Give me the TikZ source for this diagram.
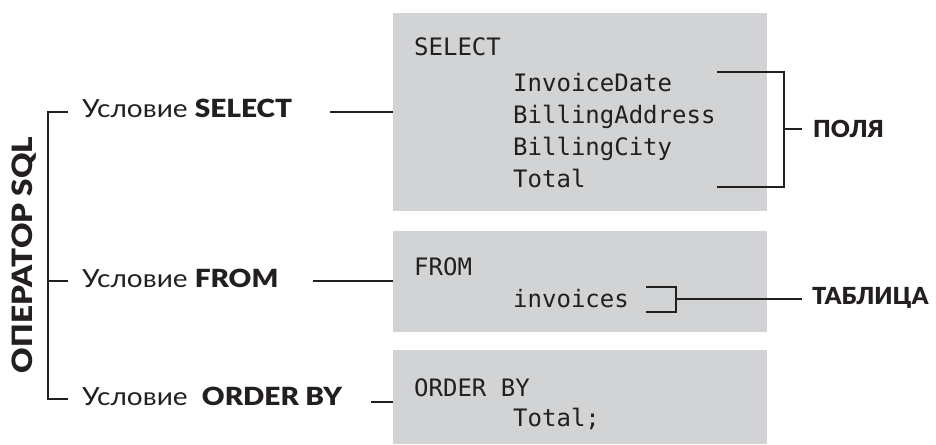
\documentclass[tikz,border=0pt]{standalone}
\usepackage{fontspec}
\newfontfamily\lab{Lato}[FakeStretch=1.12, BoldFont={* Black}]
\newfontfamily\headf{Lato}[BoldFont={* Black}]
\newfontfamily\code{DejaVu Sans Mono}
\definecolor{ink}{HTML}{231F20}
\definecolor{boxgray}{HTML}{D1D3D4}
\tikzset{
  codebox/.style={fill=boxgray, draw=none},
  codetext/.style={anchor=base west, inner sep=0pt, text=ink, font=\code\fontsize{24}{26}\selectfont},
  labtext/.style={anchor=base west, inner sep=0pt, text=ink, font=\lab\fontsize{25}{28}\selectfont},
  headtext/.style={anchor=west, inner sep=0pt, text=ink, font=\headf\bfseries\fontsize{23.5}{26}\selectfont},
  wire/.style={draw=ink, line width=1.8pt},
}
\begin{document}
\begin{tikzpicture}[x=1pt,y=-1pt]
\useasboundingbox (0,0) rectangle (936,444);
% boxes
\fill[codebox] (393,13) rectangle (767,211);
\fill[codebox] (393,231) rectangle (767,332);
\fill[codebox] (393,350) rectangle (767,444);
% code
\node[codetext] (c1) at (414,56) {SELECT};
\node[codetext] (c2) at (513,91) {InvoiceDate};
\node[codetext] (c3) at (513,123) {BillingAddress};
\node[codetext] (c4) at (513,155) {BillingCity};
\node[codetext] (c5) at (513,187) {Total};
\node[codetext] (c6) at (414,275) {FROM};
\node[codetext] (c7) at (513,307) {invoices};
\node[codetext] (c8) at (414,396) {ORDER BY};
\node[codetext] (c9) at (513,426) {Total;};
% labels
\node[labtext] (l1) at (82,117) {Условие \textbf{SELECT}};
\node[labtext] (l2) at (82,287) {Условие \textbf{FROM}};
\node[labtext] (l3) at (82,405) {Условие\ \ \textbf{ORDER BY}};
\node[rotate=90, inner sep=0pt, text=ink, font=\lab\bfseries\fontsize{28}{30}\selectfont] (title) at (24,255) {ОПЕРАТОР SQL};
\node[headtext] (fields) at (813,129) {ПОЛЯ};
\node[headtext] (table) at (812,298) {ТАБЛИЦА};
% tree
\coordinate (t1) at (48,112); \coordinate (t1e) at (68,112);
\coordinate (t2) at (48,281); \coordinate (t2e) at (68,281);
\coordinate (t3) at (48,399); \coordinate (t3e) at (68,399);
\draw[wire] (t1e) -- (t1) -- (t3) -- (t3e);
\draw[wire] (t2) -- (t2e);
% connectors to boxes
\coordinate (s1) at (330,112); \coordinate (b1) at (393,112);
\coordinate (s2) at (313,281); \coordinate (b2) at (393,281);
\coordinate (s3) at (371,402); \coordinate (b3) at (393,402);
\draw[wire] (s1) -- (b1);
\draw[wire] (s2) -- (b2);
\draw[wire] (s3) -- (b3);
% fields bracket
\coordinate (f1) at (717,72); \coordinate (f2) at (784,72);
\coordinate (f3) at (784,187); \coordinate (f4) at (717,187);
\coordinate (fm) at (784,129); \coordinate (fe) at (802,129);
\draw[wire] (f1) -- (f2) -- (f3) -- (f4);
\draw[wire] (fm) -- (fe);
% table bracket
\coordinate (g1) at (646,287); \coordinate (g2) at (676,287);
\coordinate (g3) at (676,312); \coordinate (g4) at (646,312);
\coordinate (gm) at (676,299); \coordinate (ge) at (802,299);
\draw[wire] (g1) -- (g2) -- (g3) -- (g4);
\draw[wire] (gm) -- (ge);
\end{tikzpicture}
\end{document}
